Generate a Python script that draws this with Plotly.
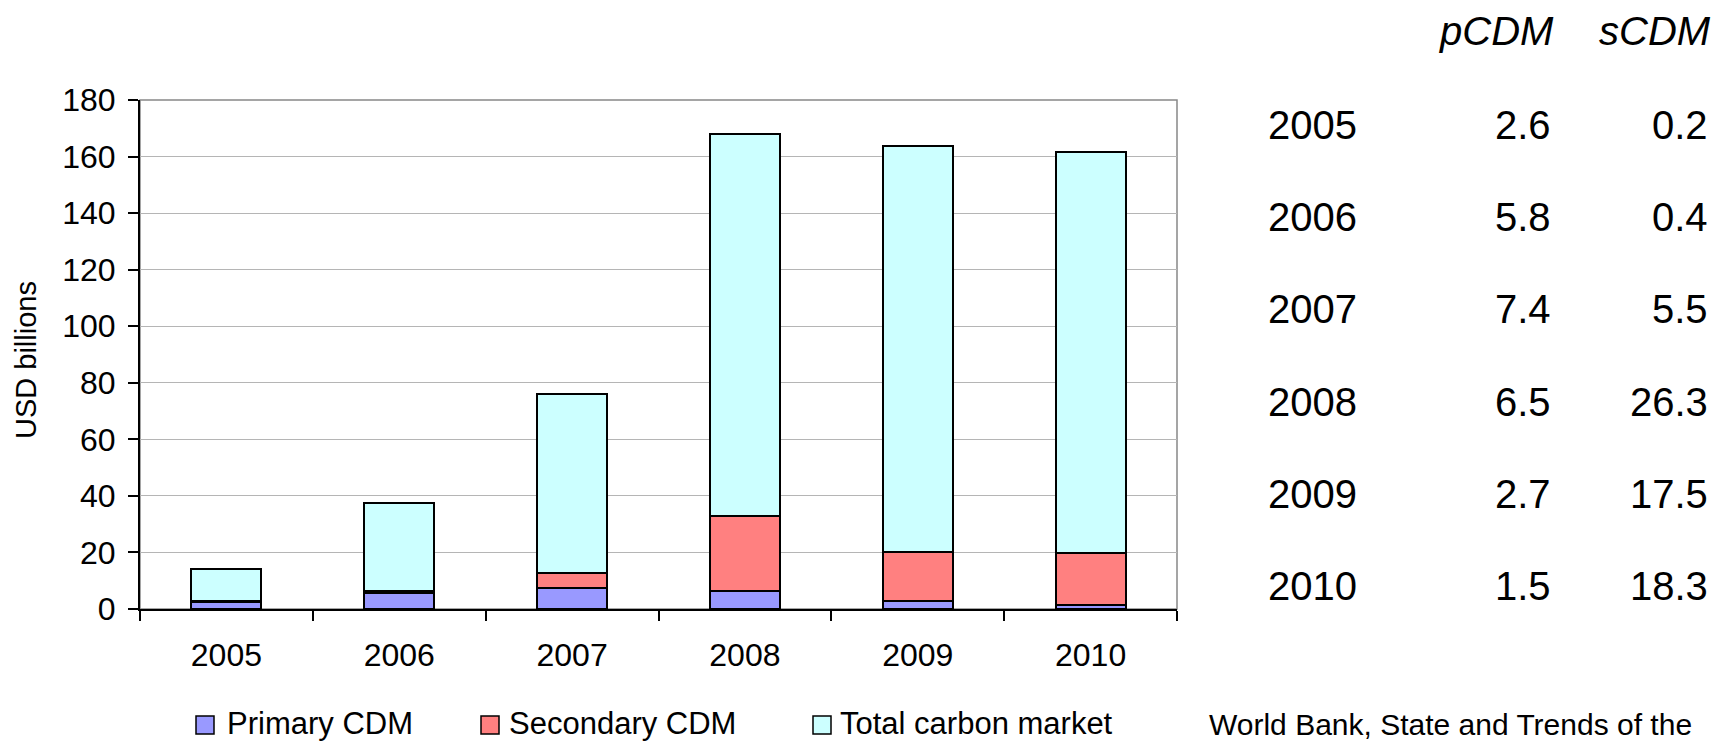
import plotly.graph_objects as go

# ---------------- data ----------------
years = ["2005", "2006", "2007", "2008", "2009", "2010"]
primary_cdm = [2.6, 5.8, 7.4, 6.5, 2.7, 1.5]
secondary_cdm = [0.2, 0.4, 5.5, 26.3, 17.5, 18.3]
total_carbon_market = [11.4, 31.2, 63.2, 135.2, 143.5, 141.7]

series_names = ["Primary CDM", "Secondary CDM", "Total carbon market"]
series_colors = ["#9999FF", "#FF8080", "#CCFFFF"]
table_headers = ["pCDM", "sCDM"]
y_title = "USD billions"
source_text = "World Bank, State and Trends of the"

# ---------------- layout geometry (pixels) ----------------
W, H = 1717, 743
L, R, T, B = 140, 1177, 100, 609
PW, PH = R - L, B - T
FONT = "Liberation Sans, Arial, sans-serif"


def px(x):
    return (x - L) / PW


def py(y):
    return (B - y) / PH


fig = go.Figure()
for name, vals, col in zip(series_names, [primary_cdm, secondary_cdm, total_carbon_market], series_colors):
    fig.add_trace(go.Bar(
        x=years, y=vals, name=name,
        marker=dict(color=col, line=dict(color="black", width=2)),
        showlegend=False,
    ))

annotations = []
shapes = []

# frame (top/right grey)
shapes.append(dict(type="rect", xref="paper", yref="paper", x0=0, x1=1, y0=0, y1=1,
                   line=dict(color="#888888", width=1.5), layer="below"))

# y title
annotations.append(dict(text=y_title, xref="paper", yref="paper", x=px(26), y=py(360),
                        textangle=-90, showarrow=False, xanchor="center", yanchor="middle",
                        font=dict(family=FONT, size=29, color="black")))

# manual legend
leg_boxes = [196, 481, 813]
leg_text_x = [225, 507, 838]
for name, col, bx, tx in zip(series_names, series_colors, leg_boxes, leg_text_x):
    shapes.append(dict(type="rect", xref="paper", yref="paper",
                       x0=px(bx), x1=px(bx + 18), y0=py(734), y1=py(716),
                       fillcolor=col, line=dict(color="black", width=1.5)))
    annotations.append(dict(text=name, xref="paper", yref="paper", x=px(tx), y=py(723),
                            showarrow=False, xanchor="left", yanchor="middle",
                            font=dict(family=FONT, size=31, color="black")))

# source text
annotations.append(dict(text=source_text, xref="paper", yref="paper", x=px(1207), y=py(724),
                        showarrow=False, xanchor="left", yanchor="middle",
                        font=dict(family=FONT, size=30, color="black")))

# table on the right
TF = 40
head_x = [1556, 1713]
for h, hx in zip(table_headers, head_x):
    annotations.append(dict(text=f"<i>{h}</i>", xref="paper", yref="paper", x=px(hx), y=py(31),
                            showarrow=False, xanchor="right", yanchor="middle",
                            font=dict(family=FONT, size=TF, color="black")))
row0, rowstep = 125, 92.2
for i, yr in enumerate(years):
    yy = py(row0 + i * rowstep)
    annotations.append(dict(text=yr, xref="paper", yref="paper", x=px(1266), y=yy,
                            showarrow=False, xanchor="left", yanchor="middle",
                            font=dict(family=FONT, size=TF, color="black")))
    annotations.append(dict(text=f"{primary_cdm[i]:.1f}", xref="paper", yref="paper", x=px(1553), y=yy,
                            showarrow=False, xanchor="right", yanchor="middle",
                            font=dict(family=FONT, size=TF, color="black")))
    annotations.append(dict(text=f"{secondary_cdm[i]:.1f}", xref="paper", yref="paper", x=px(1710), y=yy,
                            showarrow=False, xanchor="right", yanchor="middle",
                            font=dict(family=FONT, size=TF, color="black")))

fig.update_layout(
    width=W, height=H,
    margin=dict(l=L, r=W - R, t=T, b=H - B, pad=0),
    paper_bgcolor="white", plot_bgcolor="white",
    barmode="stack", bargap=0.595,
    font=dict(family=FONT, size=31, color="black"),
    xaxis=dict(
        type="category", tickson="boundaries", ticks="outside", ticklen=10, tickwidth=2,
        tickcolor="black", showline=True, linecolor="black", linewidth=2,
        showgrid=False, tickfont=dict(family=FONT, size=32, color="black"),
        ticklabelstandoff=17,
    ),
    yaxis=dict(
        range=[0, 180], dtick=20, ticks="outside", ticklen=10, tickwidth=2, tickcolor="black",
        showline=True, linecolor="black", linewidth=2,
        showgrid=True, gridcolor="#B5B5B5", gridwidth=1,
        tickfont=dict(family=FONT, size=32, color="black"),
        ticklabelstandoff=6, zeroline=False,
    ),
    shapes=shapes,
    annotations=annotations,
)

fig.write_html("out.html")
